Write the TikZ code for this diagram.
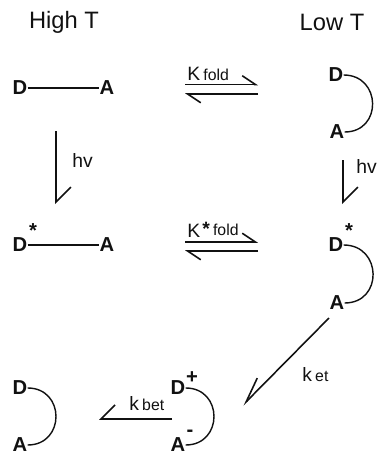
\documentclass[tikz,border=0pt]{standalone}
\usepackage{fontspec}
\setmainfont{Liberation Sans}
\usetikzlibrary{arrows.meta,positioning,calc}
\definecolor{Ink}{HTML}{111111}
\tikzset{
  site/.style={inner sep=0pt,font=\fontsize{11.5}{12}\selectfont\bfseries,text=Ink},
  head/.style={inner sep=0pt,font=\fontsize{13.5}{15}\selectfont,text=Ink},
  rate/.style={inner sep=0pt,font=\fontsize{11}{13}\selectfont,text=Ink},
  chain/.style={Ink,line width=0.7pt},
  loopchain/.style={Ink,line width=0.8pt,out=0,in=0,looseness=1.7},
  harp/.style={Ink,line width=0.9pt,-{Straight Barb[left,length=7.5pt,width=10pt,line width=0.9pt]}},
  harpr/.style={Ink,line width=0.8pt,-{Straight Barb[right,length=8pt,width=16pt,line width=0.9pt]}},
  harpk/.style={Ink,line width=0.9pt,-{Straight Barb[right,length=14pt,width=10pt,line width=0.9pt]}},
  vharp/.style={Ink,line width=0.8pt,-{Straight Barb[left,length=8.5pt,width=17pt,line width=0.9pt]}}
}
\begin{document}
\begin{tikzpicture}[x=0.02cm,y=-0.02cm]
\useasboundingbox (0,0) rectangle (377,454);
\node[head] (high) at (64,22) {High T};
\node[head] (low) at (332,22) {Low T};
% open chain, ground state
\node[site] (d1) at (20,88) {D};
\node[site] (a1) at (107,88) {A};
\draw[chain] (d1) -- (a1);
% folded, ground state
\node[site] (d2) at (336,75) {D};
\node[site] (a2) at (337,132) {A};
\draw[loopchain] (d2) to (a2);
% open chain, excited
\node[site] (d3) at (20,245) {D};
\node[site] (s3) at (33,231) {*};
\node[site] (a3) at (107,245) {A};
\draw[chain] (d3) -- (a3);
% folded, excited
\node[site] (d4) at (336,245) {D};
\node[site] (s4) at (349,231) {*};
\node[site] (a4) at (337,303) {A};
\draw[loopchain] (d4) to (a4);
% charge separated
\node[site] (d5) at (178,388) {D};
\node[site] (p5) at (192,378) {+};
\node[site] (a5) at (178,445) {A};
\node[site] (m5) at (190,433) {-};
\draw[loopchain] (d5) to (a5);
% back to ground
\node[site] (d6) at (20,388) {D};
\node[site] (a6) at (20,445) {A};
\draw[loopchain] (d6) to (a6);
% arrows
\coordinate (e1l) at (185,84.5);
\coordinate (e1r) at (258,84.5);
\coordinate (e2l) at (185,94);
\coordinate (e2r) at (258,94);
\draw[harp] (e1l) -- (e1r);
\draw[harp] (e2r) -- (e2l);
\node[rate,anchor=west] (kfold) at (187,74) {K\,{\fontsize{9}{10}\selectfont fold}};
\coordinate (e3l) at (185,242);
\coordinate (e3r) at (258,242);
\coordinate (e4l) at (185,251);
\coordinate (e4r) at (258,251);
\draw[harp] (e3l) -- (e3r);
\draw[harp] (e4r) -- (e4l);
\node[rate,anchor=west] (kstar) at (187,231) {K};
\node[rate,anchor=west] (foldstar) at (202,229) {{\bfseries *}\,{\fontsize{9}{10}\selectfont fold}};
\coordinate (v1t) at (56,131);
\coordinate (v1b) at (56,204);
\draw[vharp] (v1t) -- (v1b);
\node[rate,anchor=west] (hv1) at (72,160) {hv};
\coordinate (v2t) at (343,160);
\coordinate (v2b) at (343,204);
\draw[vharp] (v2t) -- (v2b);
\node[rate,anchor=west] (hv2) at (356,166) {hv};
\coordinate (ets) at (329,318);
\coordinate (ete) at (243,405);
\draw[harpk] (ets) -- (ete);
\node[rate,anchor=west] (ket) at (302,375) {k\,{\fontsize{9}{10}\selectfont et}};
\coordinate (bets) at (172,419);
\coordinate (bete) at (99,419);
\draw[harpr] (bets) -- (bete);
\node[rate,anchor=west] (kbet) at (129,404) {k\,{\fontsize{9}{10}\selectfont bet}};
\end{tikzpicture}
\end{document}
